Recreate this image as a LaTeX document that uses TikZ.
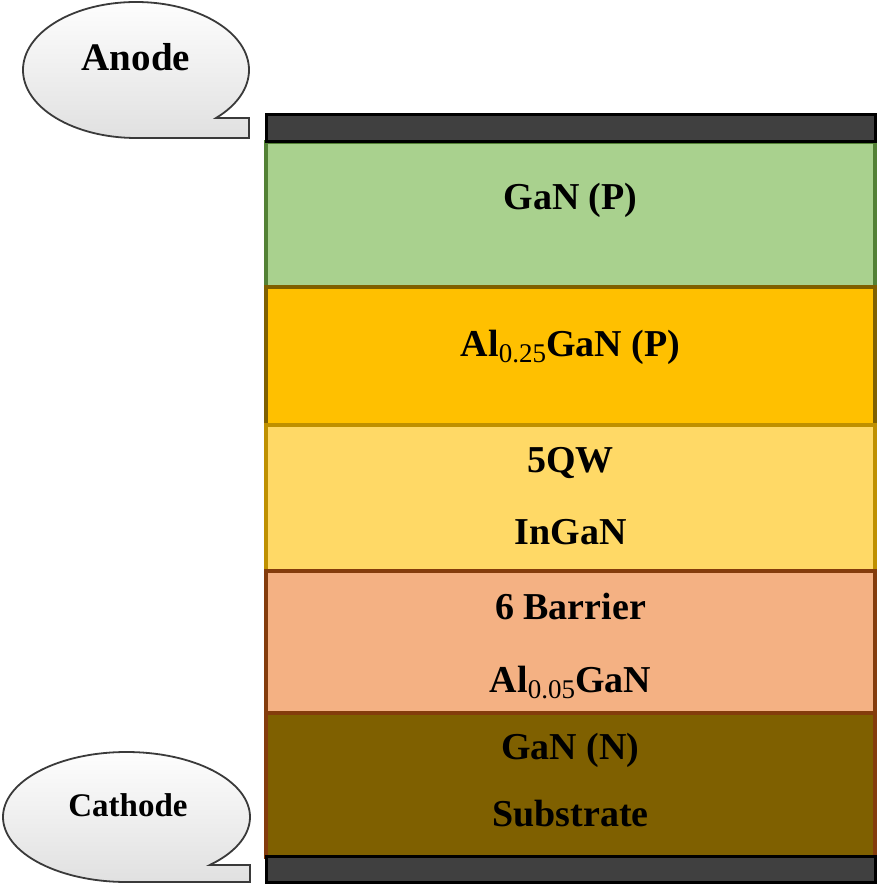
\documentclass[tikz,border=0pt]{standalone}
\usepackage{fontspec}
\setmainfont{Liberation Serif}
\usetikzlibrary{calc}

\definecolor{gpfill}{HTML}{A9D18E}
\definecolor{gpline}{HTML}{538135}
\definecolor{alfill}{HTML}{FFC000}
\definecolor{alline}{HTML}{7F6000}
\definecolor{qwfill}{HTML}{FFD966}
\definecolor{qwline}{HTML}{BF9000}
\definecolor{brfill}{HTML}{F4B183}
\definecolor{brline}{HTML}{843C0C}
\definecolor{snfill}{HTML}{7F6000}
\definecolor{snline}{HTML}{843C0C}
\definecolor{contact}{HTML}{404040}
\definecolor{bubbleline}{HTML}{3A3A3A}

\newcommand{\chemsub}[1]{\raisebox{-6pt}{\fontsize{27}{27}\selectfont\mdseries #1}}

\begin{document}
\begin{tikzpicture}[x=1pt,y=1pt,
  layer/.style={line width=3.2pt},
  contactbar/.style={line width=3pt, draw=black, fill=contact},
  callout/.style={line width=1.8pt, draw=bubbleline, top color=white, bottom color=black!12},
  lbl/.style={anchor=base, inner sep=0pt, font=\fontsize{38}{40}\selectfont\bfseries},
  bubbletext/.style={anchor=base, inner sep=0pt, font=\bfseries}
]
\useasboundingbox (0,0) rectangle (878,886);

% device stack, top to bottom
\filldraw[layer, fill=gpfill, draw=gpline] (266,744) rectangle (875,599);
\filldraw[layer, fill=alfill, draw=alline] (266,599) rectangle (875,461);
\filldraw[layer, fill=qwfill, draw=qwline] (266,461) rectangle (875,315);
\filldraw[layer, fill=brfill, draw=brline] (266,315) rectangle (875,173);
\filldraw[layer, fill=snfill, draw=snline] (266,173) rectangle (875,29);

% metal contacts
\filldraw[contactbar] (266,771.5) rectangle (875,744);
\filldraw[contactbar] (266,29) rectangle (875,3.5);

% layer labels
\node[lbl] (ganp)   at (570.5,676) {GaN (P)};
\node[lbl] (algan)  at (570.5,529) {Al\chemsub{0.25}GaN (P)};
\node[lbl] (qw)     at (570.5,413) {5QW};
\node[lbl] (ingan)  at (570.5,341) {InGaN};
\node[lbl] (barr)   at (570.5,266) {6 Barrier};
\node[lbl] (albar)  at (570.5,193) {Al\chemsub{0.05}GaN};
\node[lbl] (gann)   at (570.5,126) {GaN (N)};
\node[lbl] (subst)  at (570.5,59)  {Substrate};

% anode callout
\coordinate (ac) at (136,816);
\path[callout] ($(ac)+(-45:113pt and 68pt)$)
  arc[start angle=-45, end angle=270, x radius=113pt, y radius=68pt]
  -- (249,748) -- (249,768) -- cycle;
\node[bubbletext, font=\fontsize{39}{40}\selectfont\bfseries] (anode) at (136,815) {Anode};

% cathode callout
\coordinate (cc) at (126.5,69);
\path[callout] ($(cc)+(-47.6:123.5pt and 65pt)$)
  arc[start angle=-47.6, end angle=270, x radius=123.5pt, y radius=65pt]
  -- (250,4) -- (250,21) -- cycle;
\node[bubbletext, font=\fontsize{33}{34}\selectfont\bfseries] (cathode) at (128,69) {Cathode};
\end{tikzpicture}
\end{document}
